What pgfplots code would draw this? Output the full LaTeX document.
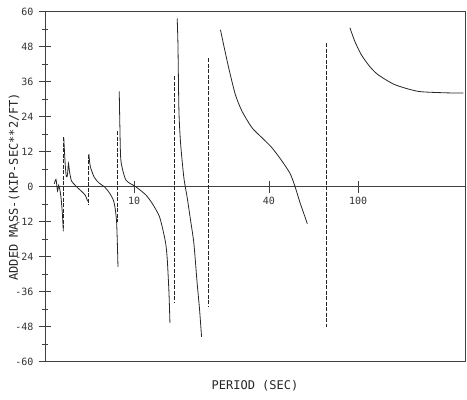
\documentclass[border=0pt]{standalone}
\usepackage{pgfplots}
\pgfplotsset{compat=1.18}
\usepackage{fontspec}
\setmainfont{DejaVu Sans Mono}

\tikzset{
  sol/.style={black!85, line width=0.8pt, no markers, smooth, tension=0.4},
  res/.style={black!85, line width=0.8pt, no markers, sharp plot, dash pattern=on 4pt off 1.5pt},
}

\begin{document}
\begin{tikzpicture}
% fix the page to the reference's frame (axis box 420 x 350)
\path[use as bounding box] (-45pt,-38pt) rectangle (422pt,361.7pt);
\begin{axis}[
    scale only axis,
    width=420pt, height=350pt,
    xmode=log,
    xmin=4, xmax=300,
    ymin=-60, ymax=60,
    axis x line=middle,
    axis y line=left,
    axis line style={-, black!75, line width=0.7pt},
    xtick={10,40,100},
    xticklabels={10,40,100},
    xminorticks=false,
    ytick={-60,-48,...,60},
    minor y tick num=1,
    tick align=center,
    major tick length=12pt,
    minor tick length=7pt,
    tick style={black!75, line width=0.6pt},
    ticklabel style={font=\fontsize{10}{11}\selectfont, black!80},
    /pgf/number format/assume math mode=true,
    x tick label style={anchor=north, yshift=-1pt},
    y tick label style={anchor=east, xshift=-2pt},
    xlabel={PERIOD (SEC)},
    ylabel={ADDED MASS-(KIP-SEC**2/FT)},
    label style={font=\fontsize{12}{13}\selectfont, black!85},
    xlabel style={at={(axis description cs:0.5,0)}, anchor=north, yshift=-15pt},
    ylabel style={at={(axis description cs:0,0.5)}, anchor=center, yshift=31pt},
    clip=false,
]
\draw[black!75, line width=0.7pt] (rel axis cs:0,0) rectangle (rel axis cs:1,1);

% solid response branches
\addplot[sol] coordinates {(4.40,1.0) (4.48,2.5) (4.55,-1.5) (4.60,0.5) (4.66,-1) (4.72,-4) (4.78,-9) (4.83,-15.3)};
\addplot[sol] coordinates {(4.85,16.9) (4.92,8) (4.98,3.5) (5.04,4) (5.09,8) (5.15,5) (5.25,2) (5.41,0.8) (5.58,-0.3) (5.81,-1.5) (6.06,-3) (6.20,-5)};
\addplot[sol] coordinates {(6.28,11.2) (6.37,7) (6.64,3.2) (6.99,1.2) (7.36,0) (7.74,-2) (8.07,-4.5) (8.23,-7.5) (8.35,-12) (8.42,-20) (8.47,-27.5)};
\addplot[sol] coordinates {(8.58,32.7) (8.64,20.2) (8.73,8.9) (9.19,2.3) (10.17,0) (11.27,-2.8) (12.06,-5.8) (12.92,-9.9) (13.36,-13.9) (13.83,-19.4) (14.06,-25) (14.31,-36.5) (14.45,-46.7)};
\addplot[sol] coordinates {(15.57,57.7) (15.69,48.7) (15.85,25.9) (16.13,14.6) (16.68,3) (17.26,-3.8) (17.87,-11.6) (18.48,-19.4) (19.11,-33) (19.59,-42) (20.0,-51.5)};
\addplot[sol] coordinates {(24.29,53.8) (25.1,48.6) (26.44,40.7) (28.3,31.6) (30.3,25.9) (33.6,20.2) (37.2,16.8) (41.2,13.4) (45.6,8.9) (49.7,4.5) (52.3,0) (55.1,-5.6) (58.0,-10.5) (59.3,-12.7)};
\addplot[sol] coordinates {(91.9,54.5) (96.7,49.8) (103.4,45.2) (112.7,41.2) (122.7,38.4) (145.6,35) (184.8,32.7) (242.9,32.2) (295,32.1)};

% dashed resonance markers
\addplot[res] coordinates {(4.84,17) (4.84,-14)};
\addplot[res] coordinates {(6.28,11) (6.28,-6)};
\addplot[res] coordinates {(8.42,19) (8.42,-12)};
\addplot[res] coordinates {(15.06,37.8) (15.06,-40)};
\addplot[res] coordinates {(21.54,44) (21.54,-41)};
\addplot[res] coordinates {(72.3,49.2) (72.3,-48)};
\end{axis}
\end{tikzpicture}
\end{document}
